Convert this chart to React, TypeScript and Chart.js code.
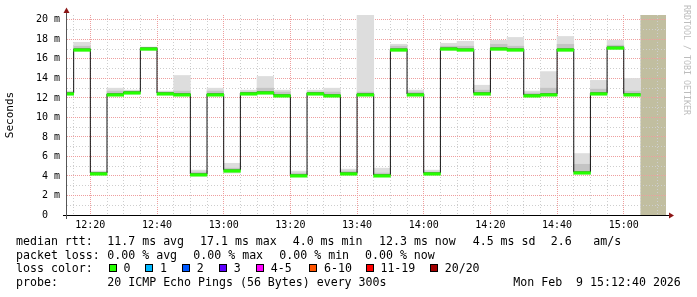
import React, { useEffect, useRef } from 'react';
import { Chart, registerables } from 'chart.js';

Chart.register(...registerables);

// ---- data (x in minutes after 12:00, y in milliseconds) ----
const intervalStart = [10, 15, 20, 25, 30, 35, 40, 45, 50, 55, 60, 65, 70, 75, 80, 85, 90, 95, 100, 105, 110, 115, 120, 125, 130, 135, 140, 145, 150, 155, 160, 165, 170, 175, 180];
const medianRtt = [12.5, 17.0, 4.3, 12.4, 12.6, 17.1, 12.5, 12.4, 4.2, 12.4, 4.6, 12.5, 12.6, 12.3, 4.1, 12.5, 12.3, 4.3, 12.4, 4.1, 17.0, 12.4, 4.3, 17.1, 17.0, 12.5, 17.1, 17.0, 12.3, 12.4, 17.0, 4.4, 12.5, 17.2, 12.4];
const smokeLow = [12.3, 16.8, 4.1, 12.2, 12.4, 16.9, 12.3, 12.2, 4.0, 12.2, 4.3, 12.3, 12.4, 12.1, 3.9, 12.3, 12.1, 4.1, 12.2, 3.9, 16.8, 12.2, 4.1, 16.9, 16.8, 12.3, 16.9, 16.8, 12.1, 12.2, 16.8, 4.2, 12.3, 17.0, 12.2];
const smokeMid = [12.6, 17.3, 4.4, 12.7, 12.7, 17.2, 12.6, 12.7, 4.4, 12.7, 4.8, 12.6, 13.0, 12.6, 4.3, 12.6, 12.6, 4.5, 12.6, 4.3, 17.3, 12.6, 4.4, 17.3, 17.3, 12.8, 17.5, 17.3, 12.5, 13.0, 17.5, 5.2, 12.9, 17.4, 12.7];
const smokeHigh = [12.7, 17.7, 4.5, 13.0, 12.8, 17.2, 12.7, 14.3, 4.6, 13.0, 5.3, 12.8, 14.2, 12.8, 4.5, 12.8, 13.0, 4.7, 21.0, 4.8, 17.5, 12.8, 4.6, 17.6, 17.8, 13.3, 17.9, 18.2, 12.7, 14.7, 18.3, 6.3, 13.8, 17.9, 14.0];
const dataEnd = 185; // 15:05 end of last sample; unknown afterwards
const viewStart = 13.0;
const viewEnd = 192.67; // 15:12:40

const xGridMinutes = [15, 20, 25, 30, 35, 40, 45, 50, 55, 60, 65, 70, 75, 80, 85, 90, 95, 100, 105, 110, 115, 120, 125, 130, 135, 140, 145, 150, 155, 160, 165, 170, 175, 180, 185, 190];
const xLabelMinutes = [20, 40, 60, 80, 100, 120, 140, 160, 180];
const xTickLabels = ['12:20', '12:40', '13:00', '13:20', '13:40', '14:00', '14:20', '14:40', '15:00'];
const yGridValues = [0, 1, 2, 3, 4, 5, 6, 7, 8, 9, 10, 11, 12, 13, 14, 15, 16, 17, 18, 19, 20];
const yLabelValues = [0, 2, 4, 6, 8, 10, 12, 14, 16, 18, 20];
const yTickLabels = ['0  ', '2 m', '4 m', '6 m', '8 m', '10 m', '12 m', '14 m', '16 m', '18 m', '20 m'];
const yMax = 20.5;

// ---- legend texts ----
const rttTexts = ['median rtt:', '11.7 ms avg', '17.1 ms max', '4.0 ms min', '12.3 ms now', '4.5 ms sd', '2.6', 'am/s'];
const lossTexts = ['packet loss:', '0.00 % avg', '0.00 % max', '0.00 % min', '0.00 % now'];
const lossColorTitle = 'loss color:';
const lossLabels = ['0', '1', '2', '3', '4-5', '6-10', '11-19', '20/20'];
const lossColors = ['#26ff00', '#00b8ff', '#0059ff', '#5e00ff', '#ff00ff', '#ff5500', '#ff0000', '#a10000'];
const probeTexts = ['probe:', '20 ICMP Echo Pings (56 Bytes) every 300s', 'Mon Feb  9 15:12:40 2026'];
const watermark = 'RRDTOOL / TOBI OETIKER';
const yTitle = 'Seconds';

// ---- layout ----
const rttX = [16, 107.3, 200, 292.7, 379, 472.7, 550.7, 593.3];
const lossX = [16, 107.3, 193.3, 279.3, 365];
const boxX = [108.7, 145.3, 182, 219, 256, 309.3, 365.7, 430];
const probeX = [16, 107.3, 513.3];
const baselines = [245.3, 259.3, 272.3, 286.3];
const MONO = '"DejaVu Sans Mono", monospace';
const MAJOR_GRID = 'rgb(238,158,158)';
const MINOR_GRID = 'rgb(206,206,206)';

const decorPlugin = {
  id: 'decor',
  beforeDraw(chart: any) {
    const { ctx, chartArea: a, scales } = chart;
    const x0 = scales.x.getPixelForValue(dataEnd);
    ctx.save();
    ctx.fillStyle = '#c1bea0';
    ctx.fillRect(x0, a.top, a.right - x0, a.bottom - a.top);
    ctx.restore();
  },
  afterDraw(chart: any) {
    const { ctx, chartArea: a } = chart;
    ctx.save();
    // axes
    ctx.lineWidth = 1;
    ctx.strokeStyle = '#000';
    ctx.beginPath();
    ctx.moveTo(a.left - 4, a.bottom + 0.5);
    ctx.lineTo(a.right + 3, a.bottom + 0.5);
    ctx.stroke();
    ctx.strokeStyle = '#555';
    ctx.beginPath();
    ctx.moveTo(a.left - 0.5, a.bottom + 4);
    ctx.lineTo(a.left - 0.5, a.top - 2);
    ctx.stroke();
    // arrows
    ctx.fillStyle = '#8c1515';
    ctx.beginPath();
    ctx.moveTo(a.left - 3.5, a.top - 2);
    ctx.lineTo(a.left + 2.5, a.top - 2);
    ctx.lineTo(a.left - 0.5, a.top - 7.5);
    ctx.closePath();
    ctx.fill();
    ctx.beginPath();
    ctx.moveTo(a.right + 3, a.bottom - 2.5);
    ctx.lineTo(a.right + 3, a.bottom + 3.5);
    ctx.lineTo(a.right + 8, a.bottom + 0.5);
    ctx.closePath();
    ctx.fill();

    // watermark
    ctx.save();
    ctx.translate(686, 5);
    ctx.rotate(Math.PI / 2);
    ctx.font = '8.3px ' + MONO;
    ctx.fillStyle = '#bdbdbd';
    ctx.textAlign = 'left';
    ctx.textBaseline = 'middle';
    ctx.fillText(watermark, 0, 0);
    ctx.restore();

    // legend
    ctx.font = '11.6px ' + MONO;
    ctx.fillStyle = '#000';
    ctx.textAlign = 'left';
    ctx.textBaseline = 'alphabetic';
    rttTexts.forEach((t, i) => ctx.fillText(t, rttX[i], baselines[0]));
    lossTexts.forEach((t, i) => ctx.fillText(t, lossX[i], baselines[1]));
    ctx.fillText(lossColorTitle, 16, baselines[2]);
    lossLabels.forEach((t, i) => {
      const bx = Math.round(boxX[i]);
      const by = Math.round(baselines[2]) - 8;
      ctx.fillStyle = lossColors[i];
      ctx.fillRect(bx, by, 7, 7);
      ctx.strokeStyle = '#000';
      ctx.strokeRect(bx + 0.5, by + 0.5, 7, 7);
      ctx.fillStyle = '#000';
      ctx.fillText(t, boxX[i] + 14.7, baselines[2]);
    });
    probeTexts.forEach((t, i) => ctx.fillText(t, probeX[i], baselines[3]));
    ctx.restore();
  },
};

function bars(low: number[], high: number[], color: string) {
  return {
    type: 'bar' as const,
    data: intervalStart.map((s, i) => ({ x: s + 2.5, y: [low[i], high[i]] })),
    backgroundColor: color,
    borderWidth: 0,
    grouped: false,
    barPercentage: 1,
    categoryPercentage: 1,
  };
}

export default function App() {
  const ref = useRef<HTMLCanvasElement>(null);

  useEffect(() => {
    if (!ref.current) return;
    const stepData = intervalStart.map((s, i) => ({ x: s, y: medianRtt[i] }));
    stepData.push({ x: dataEnd, y: medianRtt[medianRtt.length - 1] });
    const greenLow = medianRtt.map((m) => m - 0.22);
    const greenHigh = medianRtt.map((m) => m + 0.04);

    // Chart.js paints datasets from last to first: first entry ends on top.
    const chart = new Chart(ref.current, {
      type: 'line',
      data: {
        datasets: [
          bars(greenLow, greenHigh, lossColors[0]) as any,
          {
            type: 'line',
            data: stepData,
            stepped: true,
            borderColor: '#111',
            borderWidth: 1,
            pointRadius: 0,
            fill: false,
          },
          bars(medianRtt, smokeMid, '#c4c4c4') as any,
          bars(smokeLow, smokeHigh, '#dddddd') as any,
        ],
      },
      plugins: [decorPlugin],
      options: {
        animation: false,
        responsive: false,
        events: [],
        layout: { padding: { left: 0, right: 31, top: 15, bottom: 0 } },
        plugins: { legend: { display: false }, tooltip: { enabled: false } },
        scales: {
          x: {
            type: 'linear',
            min: viewStart,
            max: viewEnd,
            offset: false,
            afterBuildTicks: (s: any) => {
              s.ticks = xGridMinutes.map((v) => ({ value: v }));
            },
            afterFit: (s: any) => {
              s.height = 82;
            },
            ticks: {
              autoSkip: false,
              maxRotation: 0,
              padding: 4,
              color: '#000',
              font: { family: MONO, size: 10 },
              callback: (v: any) => {
                const k = xLabelMinutes.indexOf(Number(v));
                return k >= 0 ? xTickLabels[k] : '';
              },
            },
            grid: {
              offset: false,
              drawTicks: false,
              lineWidth: 1,
              color: (c: any) => (xLabelMinutes.includes(c.tick?.value) ? MAJOR_GRID : MINOR_GRID),
            },
            border: {
              display: false,
              dash: (c: any) => (xLabelMinutes.includes(c.tick?.value) ? [1, 1] : [1, 2]),
            },
          },
          y: {
            type: 'linear',
            min: 0,
            max: yMax,
            afterBuildTicks: (s: any) => {
              s.ticks = yGridValues.map((v) => ({ value: v }));
            },
            afterFit: (s: any) => {
              s.width = 67;
            },
            ticks: {
              autoSkip: false,
              padding: 7,
              color: '#000',
              font: { family: MONO, size: 10 },
              callback: (v: any) => {
                const k = yLabelValues.indexOf(Number(v));
                return k >= 0 ? yTickLabels[k] : '';
              },
            },
            title: {
              display: true,
              text: yTitle,
              color: '#000',
              font: { family: MONO, size: 11 },
              padding: { top: 4, bottom: 4 },
            },
            grid: {
              drawTicks: false,
              lineWidth: 1,
              color: (c: any) => (yLabelValues.includes(c.tick?.value) ? MAJOR_GRID : MINOR_GRID),
            },
            border: {
              display: false,
              dash: (c: any) => (yLabelValues.includes(c.tick?.value) ? [1, 1] : [1, 2]),
            },
          },
        },
      } as any,
    });
    return () => chart.destroy();
  }, []);

  return (
    <div style={{ position: 'absolute', left: 0, top: 0, width: 697, height: 297, background: '#fff' }}>
      <canvas ref={ref} width={697} height={297} style={{ display: 'block' }} />
    </div>
  );
}
